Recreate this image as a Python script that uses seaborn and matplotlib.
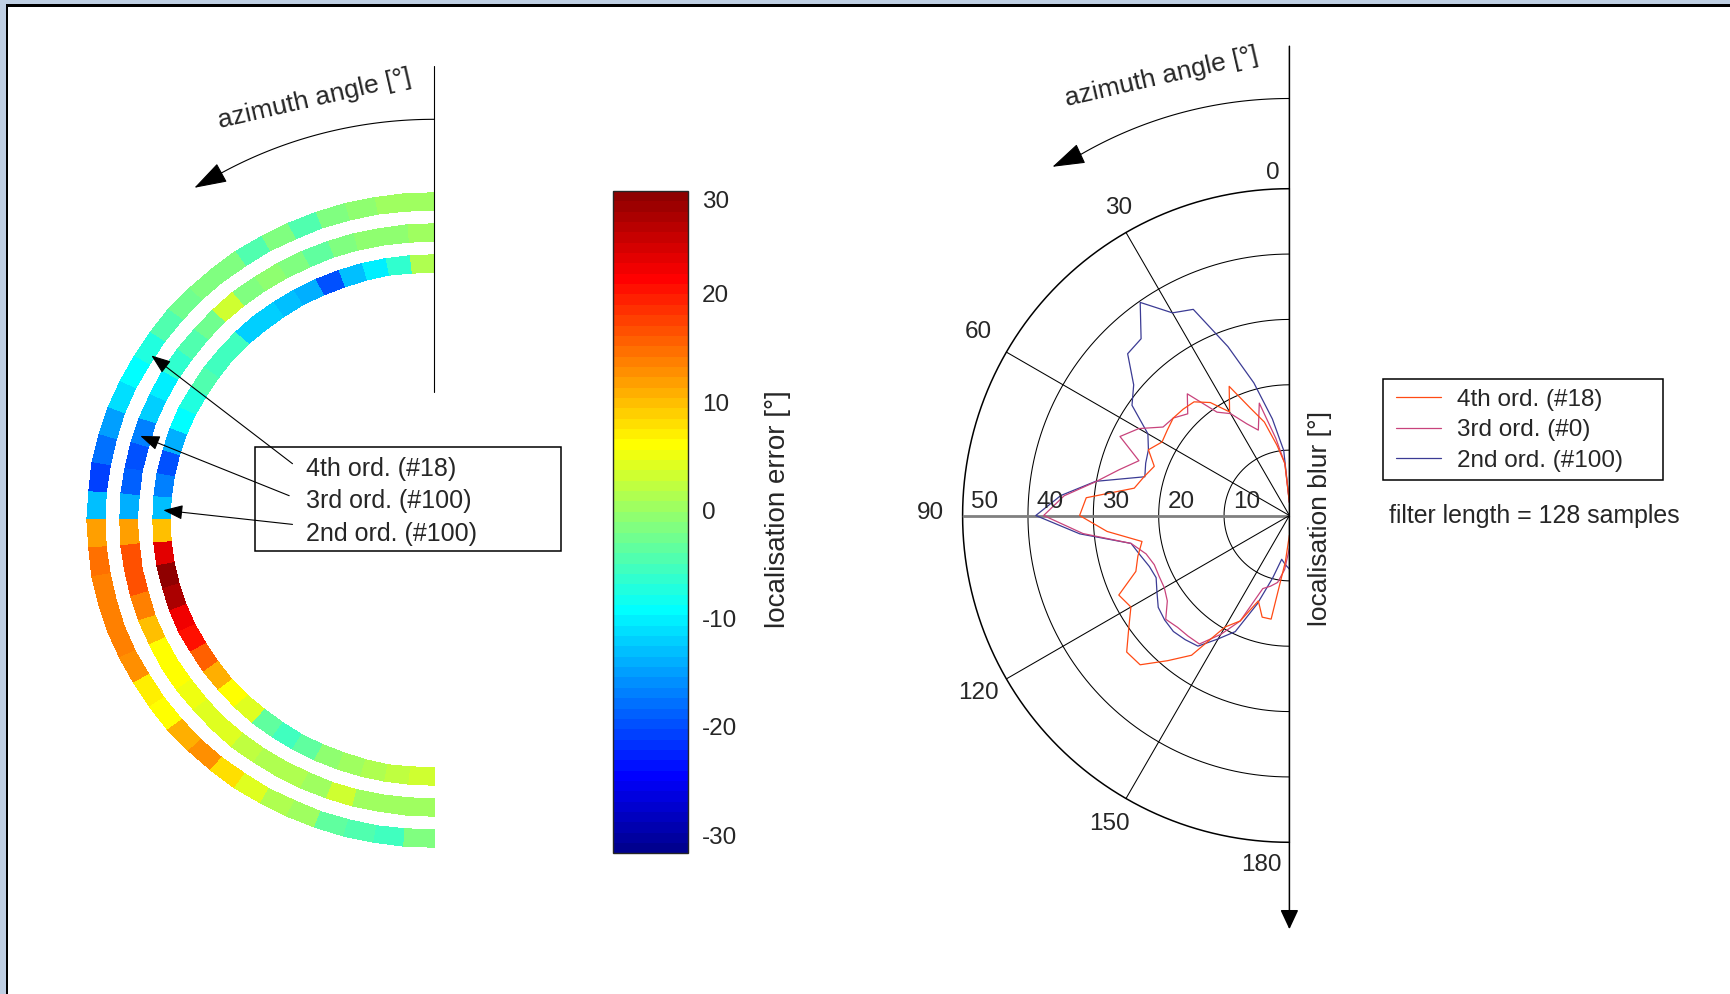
import numpy as np
import pandas as pd
import matplotlib
matplotlib.use("Agg")
import matplotlib.pyplot as plt
from matplotlib.colors import LinearSegmentedColormap, Normalize
from matplotlib.cm import ScalarMappable
from matplotlib.patches import Rectangle
import seaborn as sns

# ---------------------------------------------------------------- data
# localisation error per 5-degree azimuth sector (0..180 deg), one ring per order
ring_edges_deg = np.arange(0, 181, 5)
err_4th = [0.0, 0.0, -1.0, -2.0, -4.0, -2.0, -4.0, -1.5, -1.5, -2.5, -4.5, -7.0,
           -9.0, -11.0, -15.0, -17.5, -20.5, -13.5,
           11.8, 14.8, 14.0, 14.0, 13.5, 13.0, 7.0, 6.4, 11.0, 12.8, 8.0, 4.0,
           1.5, 0.0, -3.5, -4.5, -5.0, -2.0]
err_3rd = [0.0, -0.5, -1.0, -1.5, -3.5, -1.5, -1.0, -1.5, 3.0, -2.5, -4.5, -6.5,
           -10.0, -12.0, -17.0, -19.5, -19.0, -14.0,
           11.8, 17.0, 16.5, 14.0, 10.0, 6.4, 6.5, 5.0, 4.5, 4.0, 2.5, 1.5,
           1.0, 0.5, 3.0, 0.5, 0.0, 0.0]
err_2nd = [1.0, -6.5, -10.0, -13.5, -19.5, -14.0, -13.5, -12.5, -12.5, -5.5, -5.0, -4.5,
           -7.0, -8.8, -14.0, -19.5, -17.0, -13.5,
           9.5, 23.0, 29.3, 27.3, 22.5, 20.0, 16.0, 10.5, 6.4, 4.5, -3.5, -5.5,
           -3.5, -0.5, 0.5, 1.5, 2.5, 3.0]
err_limits = (-31.7, 29.5)

# localisation blur, sampled every 5 degrees of azimuth
blur_angles_deg = np.arange(0, 181, 5)
blur_4th = [2, 8, 10.9, 14.8, 17.5, 21.8, 18.3, 21.1, 22.7, 23.0, 23.2, 22.8, 22.5,
            23.8, 22.0, 23.0, 24.1, 31.2, 32.1, 28.0, 22.9, 24.0, 25.0, 28.8, 28.0,
            30.0, 32.5, 32.3, 29.0, 26.1, 19.7, 17.8, 13.9, 16.1, 16.1, 7.1, 3.0]
blur_3rd = [2, 8, 12, 17.8, 13.9, 15.5, 18.0, 19.3, 24.3, 22.0, 23.2, 23.6, 26.6,
            28.6, 24.5, 27.0, 30.0, 34.6, 37.6, 31.7, 24.6, 22.7, 22.0, 22.0, 22.1,
            22.8, 24.7, 24.2, 24.1, 24.0, 21.0, 17.8, 11.9, 11.2, 10.4, 8.3, 5.0]
blur_2nd = [2, 10, 15, 21, 27.5, 34.8, 35.8, 39.8, 35.3, 35.0, 31.1, 29.4, 25.0,
            23.8, 23.4, 22.9, 30.1, 35.1, 38.8, 32.2, 24.6, 23.6, 22.8, 22.5, 23.4,
            24.5, 24.9, 25.1, 24.8, 24.4, 21.8, 19.6, 14.4, 9.9, 6.8, 7.5, 8.2]

ring_labels = ["4th ord. (#18)", "3rd ord. (#100)", "2nd ord. (#100)"]
blur_labels = ["4th ord. (#18)", "3rd ord. (#0)", "2nd ord. (#100)"]
blur_colors = ["#ff4a14", "#c8437c", "#3b3b94"]
cbar_ticks = [-30, -20, -10, 0, 10, 20]
cbar_top_label = "30"
polar_angle_ticks = [30, 60, 90, 120, 150]
polar_radius_ticks = [10, 20, 30, 40, 50]

# ---------------------------------------------------------------- style
sns.set_style("white")
plt.rcParams["font.family"] = ["Liberation Sans", "DejaVu Sans"]
plt.rcParams["axes.unicode_minus"] = False

W, H, DPI = 1731, 994, 100
fig = plt.figure(figsize=(W / DPI, H / DPI), dpi=DPI, facecolor="white")


def fx(px):
    return px / W


def fy(py):
    return 1 - py / H


def fig_rect(x0, y0, x1, y1):
    return [fx(x0), fy(y1), fx(x1) - fx(x0), fy(y0) - fy(y1)]


# MATLAB-style 64-step jet
jet64 = LinearSegmentedColormap.from_list(
    "jet64",
    [(0.0, (0, 0, 0.5625)), (7 / 63, (0, 0, 1)), (23 / 63, (0, 1, 1)),
     (39 / 63, (1, 1, 0)), (55 / 63, (1, 0, 0)), (1.0, (0.5625, 0, 0))],
    N=64)
norm = Normalize(*err_limits)

# ---------------------------------------------------------------- window frame
fig.add_artist(Rectangle((0, fy(4.5)), 1, 4.5 / H, transform=fig.transFigure,
                         color="#bfcfe3", lw=0))
fig.add_artist(Rectangle((0, 0), fx(6), 1, transform=fig.transFigure,
                         color="#bfcfe3", lw=0))
fig.add_artist(Rectangle((fx(6), fy(6.5)), 1, 2 / H, transform=fig.transFigure,
                         color="black", lw=0))
fig.add_artist(Rectangle((fx(6), 0), 2 / W, fy(4.5), transform=fig.transFigure,
                         color="black", lw=0))

# ---------------------------------------------------------------- left: error rings
axL = fig.add_axes(fig_rect(0.525, 46.1, 572.6, 993.9))
axL.set_xlim(-1.25, 0.4)
axL.set_ylim(-1.45, 1.45)
axL.axis("off")

ring_bounds = [(0.95, 1.0), (0.855, 0.905), (0.76, 0.81)]
th_edges = np.deg2rad(ring_edges_deg)
for vals, (r0, r1) in zip([err_4th, err_3rd, err_2nd], ring_bounds):
    T, R = np.meshgrid(th_edges, [r0, r1])
    axL.pcolormesh(-R * np.sin(T), R * np.cos(T), np.asarray(vals)[None, :],
                   cmap=jet64, norm=norm, shading="flat",
                   edgecolors="face", linewidth=0.3)

# zero-azimuth reference line and azimuth direction arrow
axL.plot([0, 0], [0.392, 1.389], color="black", lw=0.8)
arc_t = np.deg2rad(np.linspace(0, 31, 80))
axL.plot(-1.226 * np.sin(arc_t), 1.226 * np.cos(arc_t), color="black", lw=0.8)
t0, t1 = np.deg2rad(30), np.deg2rad(34.2)
axL.annotate("", xy=(-1.229 * np.sin(t1), 1.229 * np.cos(t1)),
             xytext=(-1.226 * np.sin(t0), 1.226 * np.cos(t0)),
             arrowprops=dict(arrowstyle="-|>,head_length=1.3,head_width=0.42",
                             mutation_scale=16, color="black", lw=0.8,
                             shrinkA=0, shrinkB=0))
fig.text(fx(314.6), fy(99.4), "azimuth angle [°]", rotation=13,
         ha="center", va="center", fontsize=19)

# labelled box with arrows into the rings
fig.add_artist(Rectangle((fx(255), fy(550.9)), fx(560.8) - fx(255),
                         fy(447.1) - fy(550.9), transform=fig.transFigure,
                         fill=False, ec="black", lw=1.1))
label_rows = [469.2, 501.2, 534.3]
tails = [(292.5, 463.7), (289.2, 495.7), (292.5, 524.4)]
tips = [(58.3, 0.958), (73.1, 0.885), (87.8, 0.781)]
for lab, row, (tx, ty), (ang, rad) in zip(ring_labels, label_rows, tails, tips):
    fig.text(fx(305.8), fy(row), lab, ha="left", va="center", fontsize=18)
    a = np.deg2rad(ang)
    axL.annotate("", xy=(-rad * np.sin(a), rad * np.cos(a)), xycoords="data",
                 xytext=(fx(tx), fy(ty)), textcoords="figure fraction",
                 arrowprops=dict(arrowstyle="-|>,head_length=0.8,head_width=0.3",
                                 mutation_scale=15, color="black", lw=0.8,
                                 shrinkA=0, shrinkB=0))

# ---------------------------------------------------------------- colorbar
cax = fig.add_axes(fig_rect(612.7, 191, 687.8, 853.4))
cb = fig.colorbar(ScalarMappable(norm=norm, cmap=jet64), cax=cax, ticks=cbar_ticks)
cb.outline.set_linewidth(1.0)
cax.tick_params(axis="y", direction="in", left=True, right=True, length=6,
                width=0.8, labelsize=17.5, pad=10)
fig.text(fx(702), fy(202), cbar_top_label, ha="left", va="center", fontsize=17.5)
fig.text(fx(778), fy(509), "localisation error [°]", rotation=90,
         ha="center", va="center", fontsize=20)

# ---------------------------------------------------------------- right: blur polar plot
# the half-disc wedge is centred inside a square box spanning 2R on each side
PCX, PCY, PR = 1289.4, 515.5, 326.8
axP = fig.add_axes(fig_rect(PCX - 1.5 * PR, PCY - PR, PCX + 0.5 * PR, PCY + PR),
                   projection="polar")
axP.set_theta_zero_location("N")
axP.set_theta_direction(1)
axP.set_thetamin(0)
axP.set_thetamax(180)
axP.set_ylim(0, 50)
axP.grid(False)
axP.set_xticks([])
axP.set_yticks([])
for sp in axP.spines.values():
    sp.set_visible(False)
axP.patch.set_visible(False)

half = np.linspace(0, np.pi, 361)
for r in polar_radius_ticks:
    axP.plot(half, np.full_like(half, r), color="black",
             lw=1.1 if r == polar_radius_ticks[-1] else 0.75, clip_on=False)
for a in polar_angle_ticks:
    if a == 90:
        axP.plot([np.pi / 2] * 2, [0, 50], color="#808080", lw=2.0)
    else:
        axP.plot([np.deg2rad(a)] * 2, [0, 50], color="black", lw=0.75)

# blur curves (drawn 2nd, 3rd, 4th so that the 4th order sits on top)
blur_df = pd.DataFrame({
    "azimuth": np.deg2rad(np.tile(blur_angles_deg, 3)),
    "blur": np.concatenate([blur_4th, blur_3rd, blur_2nd]),
    "order": np.repeat(blur_labels, len(blur_angles_deg)),
})
palette = dict(zip(blur_labels, blur_colors))
for lab in blur_labels[::-1]:
    sub = blur_df[blur_df["order"] == lab]
    sns.lineplot(data=sub, x="azimuth", y="blur", color=palette[lab], lw=0.9,
                 sort=False, estimator=None, label=lab, ax=axP)
axP.set_xlabel("")
axP.set_ylabel("")

handles, labels = axP.get_legend_handles_labels()
hmap = dict(zip(labels, handles))
axP.legend([hmap[l] for l in blur_labels], blur_labels, loc="upper left",
           bbox_to_anchor=(fx(1396.4), fy(388.9)), bbox_transform=fig.transFigure,
           frameon=False, fontsize=17.5, handlelength=1.82, handletextpad=0.67,
           labelspacing=0.35, borderpad=0, borderaxespad=0)
fig.add_artist(Rectangle((fx(1383.3), fy(480.2)), fx(1662.5) - fx(1383.3),
                         fy(378.7) - fy(480.2), transform=fig.transFigure,
                         fill=False, ec="black", lw=1.1))

# azimuth axis: vertical line with arrow, and direction arc
axP.annotate("", xy=(np.pi, 63.3), xytext=(0, 71.8), annotation_clip=False,
             arrowprops=dict(arrowstyle="-|>,head_length=0.75,head_width=0.35",
                             mutation_scale=16, color="black", lw=1.1,
                             shrinkA=0, shrinkB=0))
arc_p = np.deg2rad(np.linspace(0, 31, 80))
axP.plot(arc_p, np.full_like(arc_p, 63.8), color="black", lw=0.8, clip_on=False)
axP.annotate("", xy=(np.deg2rad(34.2), 64.5), xytext=(np.deg2rad(30), 63.9),
             annotation_clip=False,
             arrowprops=dict(arrowstyle="-|>,head_length=1.3,head_width=0.42",
                             mutation_scale=16, color="black", lw=0.8,
                             shrinkA=0, shrinkB=0))
fig.text(fx(1161.4), fy(77.3), "azimuth angle [°]", rotation=13,
         ha="center", va="center", fontsize=19)

# angle tick labels, set just outside the outer circle
angle_label_pos = {30: (29.05, 53.9), 60: (59.4, 55.3), 90: (89.6, 54.9),
                   120: (119.7, 54.85), 150: (149.7, 54.6)}
for a in polar_angle_ticks:
    th, rr = angle_label_pos[a]
    axP.text(np.deg2rad(th), rr, str(a), ha="center", va="center",
             fontsize=17.5, clip_on=False)
axP.annotate("0", xy=(0, 52.4), xytext=(-11.9, 0), textcoords="offset points",
             ha="center", va="center", fontsize=17.5, annotation_clip=False)
axP.annotate("180", xy=(np.pi, 53.5), xytext=(-19.9, 0), textcoords="offset points",
             ha="center", va="center", fontsize=17.5, annotation_clip=False)
# radius tick labels along the 90 degree spoke
for v in polar_radius_ticks:
    axP.annotate(str(v), xy=(np.pi / 2, v - 3.4), xytext=(0, 9.5),
                 textcoords="offset points", ha="center", va="center",
                 fontsize=17.5, annotation_clip=False)

fig.text(fx(1320.3), fy(518.9), "localisation blur [°]", rotation=90,
         ha="center", va="center", fontsize=19)
fig.text(fx(1388.8), fy(515.5), "filter length = 128 samples",
         ha="left", va="center", fontsize=17.9)

fig.savefig("out.png", dpi=DPI, facecolor="white")
